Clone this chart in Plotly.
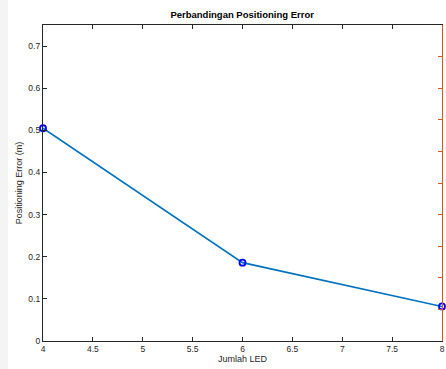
import plotly.graph_objects as go

jumlah_led = [4, 6, 8]
pos_error = [0.505, 0.186, 0.082]
x_ticks = [4, 4.5, 5, 5.5, 6, 6.5, 7, 7.5, 8]
x_tick_labels = ["4", "4.5", "5", "5.5", "6", "6.5", "7", "7.5", "8"]
y_ticks = [0, 0.1, 0.2, 0.3, 0.4, 0.5, 0.6, 0.7]
y_tick_labels = ["0", "0.1", "0.2", "0.3", "0.4", "0.5", "0.6", "0.7"]
doc_fragments = ["ya", "yang digunakan", "untuk posisi"]
doc_fragment_px = [20, 125, 311]   # left pixel of each cropped document-text fragment

FONT = "Liberation Sans, Arial, Helvetica, sans-serif"
AX = "#262626"
W, H = 446, 369
L, R, T, B = 43, 4, 24.5, 28
PW, PH = W - L - R, H - T - B

fig = go.Figure()
fig.add_trace(go.Scatter(
    x=jumlah_led, y=pos_error, mode="lines+markers",
    line=dict(color="#0072BD", width=1.6),
    marker=dict(symbol="circle-open", size=6, color="#0000FF", line=dict(width=1.8, color="#0000FF")),
    showlegend=False, cliponaxis=False,
))

# cropped line of document text above the figure (only its lower part is visible)
frag_x = [4 + (p - L) / PW * 4 for p in doc_fragment_px]
frag_y = [(H - B - 2) / PH] * len(doc_fragments)
fig.add_trace(go.Scatter(
    x=frag_x, y=frag_y, yaxis="y2", mode="text", text=doc_fragments,
    textposition="middle right", cliponaxis=False, hoverinfo="skip", showlegend=False,
    textfont=dict(family="Liberation Serif, Times New Roman, serif", size=22, color="#111"),
))

fig.update_layout(
    width=W, height=H,
    margin=dict(l=L, r=R, t=T, b=B, autoexpand=False),
    paper_bgcolor="white", plot_bgcolor="white",
    font=dict(family=FONT, size=9, color=AX),
    title=dict(text="<b>Perbandingan Positioning Error</b>", x=0.543, xanchor="center",
               y=1 - 14.5/H, yanchor="middle", font=dict(size=9.5, color="#000000", family=FONT)),
    xaxis=dict(range=[4, 8], tickvals=x_ticks, ticktext=x_tick_labels, ticks="inside",
               ticklen=4, tickcolor=AX, showline=True, linecolor=AX, linewidth=1.2,
               mirror="ticks", showgrid=False, zeroline=False, automargin=False,
               title=dict(text="Jumlah LED", standoff=2, font=dict(size=9)),
               tickfont=dict(size=8.5)),
    yaxis=dict(range=[0, 0.75], tickvals=y_ticks, ticktext=y_tick_labels, ticks="inside",
               ticklen=4, tickcolor=AX, showline=True, linecolor=AX, linewidth=1.2,
               showgrid=False, zeroline=False, automargin=False,
               title=dict(text="Positioning Error (m)", standoff=4, font=dict(size=9)),
               tickfont=dict(size=8.5)),
    yaxis2=dict(range=[0, 1], dtick=0.1, overlaying="y", side="right", ticks="inside",
                ticklen=4, tickcolor="#D95319", showline=True, linecolor="#D95319",
                linewidth=1.2, showticklabels=False, showgrid=False, zeroline=False,
                automargin=False),
)

fig.add_shape(type="rect", xref="paper", yref="paper", x0=-L/PW, x1=(8 - L)/PW, y0=-1, y1=2,
              fillcolor="#f4f4f4", line=dict(width=0), layer="below")

fig.write_html("out.html", config={"displayModeBar": False},
               post_script="document.body.style.margin='0';document.body.style.padding='0';")
